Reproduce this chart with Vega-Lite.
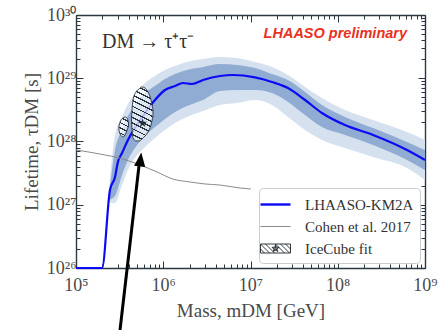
{
  "$schema": "https://vega.github.io/schema/vega-lite/v6.json",
  "width": 349,
  "height": 253,
  "autosize": "none",
  "padding": {"left": 76, "top": 15, "right": 14, "bottom": 62},
  "background": "white",
  "config": {"view": {"stroke": null}, "axis": {"grid": false}},
  "resolve": {"axis": {"x": "independent", "y": "independent"}},
  "datasets": {
    "bands": [
      {"m": 2.40e5, "lt": 1.9e27, "dt": 1.5e27, "db": 1.2e27, "lb": 1.1e27},
      {"m": 2.80e5, "lt": 1.27e28, "dt": 7.35e27, "db": 1.37e27, "lb": 1.07e27},
      {"m": 3.37e5, "lt": 2.44e28, "dt": 1.52e28, "db": 2.95e27, "lb": 2.05e27},
      {"m": 3.94e5, "lt": 3.92e28, "dt": 2.53e28, "db": 5.11e27, "lb": 3.54e27},
      {"m": 4.74e5, "lt": 5.64e28, "dt": 3.78e28, "db": 7.89e27, "lb": 5.48e27},
      {"m": 6.18e5, "lt": 8.41e28, "dt": 5.85e28, "db": 1.22e28, "lb": 8.18e27},
      {"m": 8.04e5, "lt": 1.086e29, "dt": 7.53e28, "db": 1.69e28, "lb": 1.14e28},
      {"m": 1.047e6, "lt": 1.349e29, "dt": 9.73e28, "db": 2.27e28, "lb": 1.52e28},
      {"m": 1.365e6, "lt": 1.563e29, "dt": 1.167e29, "db": 2.92e28, "lb": 1.96e28},
      {"m": 1.87e6, "lt": 1.807e29, "dt": 1.349e29, "db": 3.64e28, "lb": 2.44e28},
      {"m": 2.86e6, "lt": 2.014e29, "dt": 1.507e29, "db": 4.53e28, "lb": 3.03e28},
      {"m": 4.47e6, "lt": 2.17e29, "dt": 1.679e29, "db": 6.28e28, "lb": 3.78e28},
      {"m": 7.0e6, "lt": 2.089e29, "dt": 1.618e29, "db": 6.52e28, "lb": 4.06e28},
      {"m": 1.127e7, "lt": 1.807e29, "dt": 1.452e29, "db": 6.52e28, "lb": 4.53e28},
      {"m": 1.76e7, "lt": 1.507e29, "dt": 1.167e29, "db": 5.85e28, "lb": 3.78e28},
      {"m": 2.69e7, "lt": 1.125e29, "dt": 9.38e28, "db": 4.22e28, "lb": 2.44e28},
      {"m": 4.22e7, "lt": 7.28e28, "dt": 6.07e28, "db": 2.62e28, "lb": 1.52e28},
      {"m": 6.59e7, "lt": 4.88e28, "dt": 3.78e28, "db": 1.69e28, "lb": 1.06e28},
      {"m": 1.21e8, "lt": 3.15e28, "dt": 2.44e28, "db": 1.27e28, "lb": 7.89e27},
      {"m": 2.54e8, "lt": 2.19e28, "dt": 1.63e28, "db": 8.81e27, "lb": 5.69e27},
      {"m": 6.22e8, "lt": 1.41e28, "dt": 9.82e27, "db": 5.11e27, "lb": 3.81e27},
      {"m": 1e9, "lt": 1.06e28, "dt": 7.35e27, "db": 3.54e27, "lb": 2.46e27}
    ],
    "lines": [
      {"series": "LHAASO-KM2A", "m": 1e5, "tau": 1e26},
      {"series": "LHAASO-KM2A", "m": 1.99e5, "tau": 1e26},
      {"series": "LHAASO-KM2A", "m": 2.45e5, "tau": 1.71e27},
      {"series": "LHAASO-KM2A", "m": 2.80e5, "tau": 2.75e27},
      {"series": "LHAASO-KM2A", "m": 3.02e5, "tau": 4.74e27},
      {"series": "LHAASO-KM2A", "m": 3.37e5, "tau": 6.58e27},
      {"series": "LHAASO-KM2A", "m": 3.94e5, "tau": 1.06e28},
      {"series": "LHAASO-KM2A", "m": 4.74e5, "tau": 1.63e28},
      {"series": "LHAASO-KM2A", "m": 6.18e5, "tau": 2.82e28},
      {"series": "LHAASO-KM2A", "m": 8.04e5, "tau": 4.53e28},
      {"series": "LHAASO-KM2A", "m": 1.047e6, "tau": 6.52e28},
      {"series": "LHAASO-KM2A", "m": 1.365e6, "tau": 7.53e28},
      {"series": "LHAASO-KM2A", "m": 1.68e6, "tau": 8.41e28},
      {"series": "LHAASO-KM2A", "m": 2.14e6, "tau": 8.11e28},
      {"series": "LHAASO-KM2A", "m": 2.86e6, "tau": 9.38e28},
      {"series": "LHAASO-KM2A", "m": 4.47e6, "tau": 1.086e29},
      {"series": "LHAASO-KM2A", "m": 6.3e6, "tau": 1.125e29},
      {"series": "LHAASO-KM2A", "m": 1.127e7, "tau": 1.03e29},
      {"series": "LHAASO-KM2A", "m": 1.76e7, "tau": 8.73e28},
      {"series": "LHAASO-KM2A", "m": 2.69e7, "tau": 7.01e28},
      {"series": "LHAASO-KM2A", "m": 4.22e7, "tau": 4.53e28},
      {"series": "LHAASO-KM2A", "m": 6.59e7, "tau": 2.82e28},
      {"series": "LHAASO-KM2A", "m": 1.21e8, "tau": 1.82e28},
      {"series": "LHAASO-KM2A", "m": 2.54e8, "tau": 1.27e28},
      {"series": "LHAASO-KM2A", "m": 6.22e8, "tau": 7.35e27},
      {"series": "LHAASO-KM2A", "m": 1e9, "tau": 5.11e27},
      {"series": "Cohen et al. 2017", "m": 1e5, "tau": 7.35e27},
      {"series": "Cohen et al. 2017", "m": 1.88e5, "tau": 6.34e27},
      {"series": "Cohen et al. 2017", "m": 3.46e5, "tau": 5.28e27},
      {"series": "Cohen et al. 2017", "m": 5.42e5, "tau": 4.25e27},
      {"series": "Cohen et al. 2017", "m": 8.47e5, "tau": 3.30e27},
      {"series": "Cohen et al. 2017", "m": 1.29e6, "tau": 2.55e27},
      {"series": "Cohen et al. 2017", "m": 2.03e6, "tau": 2.29e27},
      {"series": "Cohen et al. 2017", "m": 3.01e6, "tau": 2.13e27},
      {"series": "Cohen et al. 2017", "m": 4.47e6, "tau": 2.05e27},
      {"series": "Cohen et al. 2017", "m": 7.59e6, "tau": 1.84e27},
      {"series": "Cohen et al. 2017", "m": 1.01e7, "tau": 1.77e27}
    ],
    "keys": [
      {"series": "LHAASO-KM2A", "m": 1e9, "tau": 5.11e27},
      {"series": "Cohen et al. 2017", "m": 1.01e7, "tau": 1.77e27},
      {"series": "IceCube fit", "m": 5.8e5, "tau": 1.95e28}
    ],
    "hatchBig": [
      {"m": 4.33e5, "top": 2.35e28, "bot": 2.03e28},
      {"m": 4.50e5, "top": 4.53e28, "bot": 1.14e28},
      {"m": 4.87e5, "top": 6.07e28, "bot": 1.02e28},
      {"m": 5.27e5, "top": 6.76e28, "bot": 1.02e28},
      {"m": 5.70e5, "top": 7.28e28, "bot": 1.10e28},
      {"m": 6.18e5, "top": 7.01e28, "bot": 1.22e28},
      {"m": 6.68e5, "top": 6.07e28, "bot": 1.41e28},
      {"m": 7.24e5, "top": 4.53e28, "bot": 1.82e28},
      {"m": 7.63e5, "top": 3.15e28, "bot": 2.53e28}
    ],
    "hatchSmall": [
      {"m": 3.11e5, "top": 1.76e28, "bot": 1.47e28},
      {"m": 3.24e5, "top": 2.11e28, "bot": 1.27e28},
      {"m": 3.46e5, "top": 2.35e28, "bot": 1.18e28},
      {"m": 3.69e5, "top": 2.44e28, "bot": 1.31e28},
      {"m": 3.89e5, "top": 2.27e28, "bot": 1.58e28},
      {"m": 4.00e5, "top": 1.96e28, "bot": 1.76e28}
    ],
    "star": [{"m": 5.8e5, "tau": 1.95e28}],
    "arrow": [{"m": 3.05e5, "tau": 6.0e24, "m2": 5.27e5, "tau2": 4.10e27}],
    "head": [{"m": 5.48e5, "tau": 5.19e27}],
    "decay": [{"m": 1.99e5, "tau": 3.0e29, "label": "DM → τ⁺τ⁻"}],
    "prelim": [{"m": 6.22e8, "tau": 4.33e29, "label": "LHAASO preliminary"}]
  },
  "layer": [
    {
      "data": {"name": "bands"},
      "mark": {"type": "area", "color": "#d6e1f0", "interpolate": "monotone", "opacity": 1},
      "encoding": {
        "x": {"field": "m", "type": "quantitative", "scale": {"type": "log", "domain": [1e5, 1e9], "nice": false},
          "axis": {"orient": "bottom", "values": [1e5,2e5,3e5,4e5,5e5,6e5,7e5,8e5,9e5,1e6,2e6,3e6,4e6,5e6,6e6,7e6,8e6,9e6,1e7,2e7,3e7,4e7,5e7,6e7,7e7,8e7,9e7,1e8,2e8,3e8,4e8,5e8,6e8,7e8,8e8,9e8,1e9],
            "tickSize": {"condition": {"test": "abs(log(datum.value)/LN10 - round(log(datum.value)/LN10)) < 0.001", "value": -7}, "value": -4},
            "tickColor": "#2b3840", "tickWidth": 1, "domainColor": "#2b3840", "domainWidth": 1.4,
            "labelExpr": "datum.value == 1e5 ? '10⁵' : datum.value == 1e6 ? '10⁶' : datum.value == 1e7 ? '10⁷' : datum.value == 1e8 ? '10⁸' : datum.value == 1e9 ? '10⁹' : ''",
            "labelFont": "Liberation Serif", "labelFontSize": 18, "labelColor": "#4a4a4a", "labelPadding": 15,
            "labelFlush": false, "labelOverlap": false, "labelBound": false,
            "title": "Mass, mDM [GeV]", "titleFont": "Liberation Serif", "titleFontSize": 19, "titleFontWeight": "normal", "titleColor": "#4a4a4a", "titlePadding": 4}},
        "y": {"field": "lt", "type": "quantitative", "scale": {"type": "log", "domain": [1e26, 1e30], "nice": false},
          "axis": {"orient": "left", "values": [1e26,2e26,3e26,4e26,5e26,6e26,7e26,8e26,9e26,1e27,2e27,3e27,4e27,5e27,6e27,7e27,8e27,9e27,1e28,2e28,3e28,4e28,5e28,6e28,7e28,8e28,9e28,1e29,2e29,3e29,4e29,5e29,6e29,7e29,8e29,9e29,1e30],
            "tickSize": {"condition": {"test": "abs(log(datum.value)/LN10 - round(log(datum.value)/LN10)) < 0.001", "value": -7}, "value": -4},
            "tickColor": "#2b3840", "tickWidth": 1, "domainColor": "#2b3840", "domainWidth": 1.4,
            "labelExpr": "datum.value == 1e26 ? '10²⁶' : datum.value == 1e27 ? '10²⁷' : datum.value == 1e28 ? '10²⁸' : datum.value == 1e29 ? '10²⁹' : datum.value == 1e30 ? '10³⁰' : ''",
            "labelFont": "Liberation Serif", "labelFontSize": 18, "labelColor": "#4a4a4a", "labelPadding": 7,
            "labelFlush": false, "labelOverlap": false, "labelBound": false,
            "title": "Lifetime, τDM [s]", "titleFont": "Liberation Serif", "titleFontSize": 19, "titleFontWeight": "normal", "titleColor": "#4a4a4a", "titlePadding": 5}},
        "y2": {"field": "lb"}
      }
    },
    {
      "data": {"name": "bands"},
      "mark": {"type": "area", "color": "#90acd2", "interpolate": "monotone", "opacity": 1},
      "encoding": {
        "x": {"field": "m", "type": "quantitative", "scale": {"type": "log", "domain": [1e5, 1e9], "nice": false},
          "axis": {"orient": "top", "values": [1e5,2e5,3e5,4e5,5e5,6e5,7e5,8e5,9e5,1e6,2e6,3e6,4e6,5e6,6e6,7e6,8e6,9e6,1e7,2e7,3e7,4e7,5e7,6e7,7e7,8e7,9e7,1e8,2e8,3e8,4e8,5e8,6e8,7e8,8e8,9e8,1e9],
            "tickSize": {"condition": {"test": "abs(log(datum.value)/LN10 - round(log(datum.value)/LN10)) < 0.001", "value": -7}, "value": -4},
            "tickColor": "#2b3840", "tickWidth": 1, "domainColor": "#2b3840", "domainWidth": 1.4,
            "labels": false, "title": null}},
        "y": {"field": "dt", "type": "quantitative", "scale": {"type": "log", "domain": [1e26, 1e30], "nice": false},
          "axis": {"orient": "right", "values": [1e26,2e26,3e26,4e26,5e26,6e26,7e26,8e26,9e26,1e27,2e27,3e27,4e27,5e27,6e27,7e27,8e27,9e27,1e28,2e28,3e28,4e28,5e28,6e28,7e28,8e28,9e28,1e29,2e29,3e29,4e29,5e29,6e29,7e29,8e29,9e29,1e30],
            "tickSize": {"condition": {"test": "abs(log(datum.value)/LN10 - round(log(datum.value)/LN10)) < 0.001", "value": -7}, "value": -4},
            "tickColor": "#2b3840", "tickWidth": 1, "domainColor": "#2b3840", "domainWidth": 1.4,
            "labels": false, "title": null}},
        "y2": {"field": "db"}
      }
    },
    {
      "data": {"name": "lines"},
      "mark": {"type": "line", "interpolate": "monotone"},
      "encoding": {
        "x": {"field": "m", "type": "quantitative", "scale": {"type": "log", "domain": [1e5, 1e9], "nice": false}, "axis": null},
        "y": {"field": "tau", "type": "quantitative", "scale": {"type": "log", "domain": [1e26, 1e30], "nice": false}, "axis": null},
        "color": {"field": "series", "type": "nominal", "legend": null,
          "scale": {"domain": ["LHAASO-KM2A", "Cohen et al. 2017"], "range": ["#0a0af5", "#8a8a8a"]}},
        "strokeWidth": {"condition": {"test": "datum.series === 'LHAASO-KM2A'", "value": 2.2}, "value": 1}
      }
    },
    {
      "data": {"name": "keys"},
      "mark": {"type": "point", "filled": true, "opacity": 0, "size": 400, "strokeWidth": 0.9},
      "encoding": {
        "x": {"field": "m", "type": "quantitative", "scale": {"type": "log", "domain": [1e5, 1e9], "nice": false}, "axis": null},
        "y": {"field": "tau", "type": "quantitative", "scale": {"type": "log", "domain": [1e26, 1e30], "nice": false}, "axis": null},
        "fill": {"field": "series", "type": "nominal",
          "scale": {"domain": ["LHAASO-KM2A", "Cohen et al. 2017", "IceCube fit"], "range": ["#0a0af5", "#8a8a8a", "#ffffff"]},
          "legend": {"orient": "bottom-right", "offset": 5, "title": null, "fillColor": "rgba(255,255,255,0.9)", "strokeColor": "#cccccc",
            "cornerRadius": 4, "padding": 6, "rowPadding": 3, "labelFont": "Liberation Serif", "labelFontSize": 15, "labelColor": "#333333",
            "labelOffset": 19, "symbolSize": 400, "symbolOpacity": 1, "symbolStrokeWidth": 0.9}},
        "stroke": {"field": "series", "type": "nominal",
          "scale": {"domain": ["LHAASO-KM2A", "Cohen et al. 2017", "IceCube fit"], "range": ["transparent", "transparent", "#1b252b"]},
          "legend": {"orient": "bottom-right", "offset": 5, "title": null, "fillColor": "rgba(255,255,255,0.9)", "strokeColor": "#cccccc",
            "cornerRadius": 4, "padding": 6, "rowPadding": 3, "labelFont": "Liberation Serif", "labelFontSize": 15, "labelColor": "#333333",
            "labelOffset": 19, "symbolSize": 400, "symbolOpacity": 1, "symbolStrokeWidth": 0.9}},
        "shape": {"field": "series", "type": "nominal",
          "scale": {"domain": ["LHAASO-KM2A", "Cohen et al. 2017", "IceCube fit"], "range": [
            "M-1.5,-0.12H1.5V0.12H-1.5Z",
            "M-1.5,-0.05H1.5V0.05H-1.5Z",
            "M-1.5,-0.45H1.5V0.45H-1.5Z M-1.5,0.05L-1.1,0.45 M-1.5,-0.45L-0.6,0.45 M-1.0,-0.45L-0.1,0.45 M0.0,-0.45L0.9,0.45 M0.5,-0.45L1.4,0.45 M1.0,-0.45L1.5,0.05 M0,-0.38L0.085,-0.117L0.361,-0.117L0.138,0.044L0.223,0.307L0,0.145L-0.223,0.307L-0.138,0.044L-0.361,-0.117L-0.085,-0.117Z M0,-0.2L0.1,0.15L-0.1,0.15Z"]},
          "legend": {"orient": "bottom-right", "offset": 5, "title": null, "fillColor": "rgba(255,255,255,0.9)", "strokeColor": "#cccccc",
            "cornerRadius": 4, "padding": 6, "rowPadding": 3, "labelFont": "Liberation Serif", "labelFontSize": 15, "labelColor": "#333333",
            "labelOffset": 19, "symbolSize": 400, "symbolOpacity": 1, "symbolStrokeWidth": 0.9}}
      }
    },
    {
      "data": {"name": "hatchSmall"},
      "mark": {"type": "area", "interpolate": "monotone", "stroke": "#22313a", "strokeWidth": 0.9, "opacity": 1,
        "fill": {"gradient": "linear", "x1": 0.62, "y1": 0, "x2": 0.38, "y2": 1, "stops": [
          {"offset": 0, "color": "rgba(255,255,255,0.7)"},
          {"offset": 0.0925, "color": "rgba(255,255,255,0.7)"}, {"offset": 0.0925, "color": "#22313a"}, {"offset": 0.1575, "color": "#22313a"}, {"offset": 0.1575, "color": "rgba(255,255,255,0.7)"},
          {"offset": 0.3425, "color": "rgba(255,255,255,0.7)"}, {"offset": 0.3425, "color": "#22313a"}, {"offset": 0.4075, "color": "#22313a"}, {"offset": 0.4075, "color": "rgba(255,255,255,0.7)"},
          {"offset": 0.5925, "color": "rgba(255,255,255,0.7)"}, {"offset": 0.5925, "color": "#22313a"}, {"offset": 0.6575, "color": "#22313a"}, {"offset": 0.6575, "color": "rgba(255,255,255,0.7)"},
          {"offset": 0.8425, "color": "rgba(255,255,255,0.7)"}, {"offset": 0.8425, "color": "#22313a"}, {"offset": 0.9075, "color": "#22313a"}, {"offset": 0.9075, "color": "rgba(255,255,255,0.7)"},
          {"offset": 1, "color": "rgba(255,255,255,0.7)"}]}},
      "encoding": {
        "x": {"field": "m", "type": "quantitative", "scale": {"type": "log", "domain": [1e5, 1e9], "nice": false}, "axis": null},
        "y": {"field": "top", "type": "quantitative", "scale": {"type": "log", "domain": [1e26, 1e30], "nice": false}, "axis": null},
        "y2": {"field": "bot"}
      }
    },
    {
      "data": {"name": "hatchBig"},
      "mark": {"type": "area", "interpolate": "monotone", "stroke": "#22313a", "strokeWidth": 0.9, "opacity": 1,
        "fill": {"gradient": "linear", "x1": 0.6, "y1": 0, "x2": 0.4, "y2": 1, "stops": [
          {"offset": 0, "color": "rgba(255,255,255,0.7)"},
          {"offset": 0.0375, "color": "rgba(255,255,255,0.7)"}, {"offset": 0.0375, "color": "#22313a"}, {"offset": 0.0625, "color": "#22313a"}, {"offset": 0.0625, "color": "rgba(255,255,255,0.7)"},
          {"offset": 0.1375, "color": "rgba(255,255,255,0.7)"}, {"offset": 0.1375, "color": "#22313a"}, {"offset": 0.1625, "color": "#22313a"}, {"offset": 0.1625, "color": "rgba(255,255,255,0.7)"},
          {"offset": 0.2375, "color": "rgba(255,255,255,0.7)"}, {"offset": 0.2375, "color": "#22313a"}, {"offset": 0.2625, "color": "#22313a"}, {"offset": 0.2625, "color": "rgba(255,255,255,0.7)"},
          {"offset": 0.3375, "color": "rgba(255,255,255,0.7)"}, {"offset": 0.3375, "color": "#22313a"}, {"offset": 0.3625, "color": "#22313a"}, {"offset": 0.3625, "color": "rgba(255,255,255,0.7)"},
          {"offset": 0.4375, "color": "rgba(255,255,255,0.7)"}, {"offset": 0.4375, "color": "#22313a"}, {"offset": 0.4625, "color": "#22313a"}, {"offset": 0.4625, "color": "rgba(255,255,255,0.7)"},
          {"offset": 0.5375, "color": "rgba(255,255,255,0.7)"}, {"offset": 0.5375, "color": "#22313a"}, {"offset": 0.5625, "color": "#22313a"}, {"offset": 0.5625, "color": "rgba(255,255,255,0.7)"},
          {"offset": 0.6375, "color": "rgba(255,255,255,0.7)"}, {"offset": 0.6375, "color": "#22313a"}, {"offset": 0.6625, "color": "#22313a"}, {"offset": 0.6625, "color": "rgba(255,255,255,0.7)"},
          {"offset": 0.7375, "color": "rgba(255,255,255,0.7)"}, {"offset": 0.7375, "color": "#22313a"}, {"offset": 0.7625, "color": "#22313a"}, {"offset": 0.7625, "color": "rgba(255,255,255,0.7)"},
          {"offset": 0.8375, "color": "rgba(255,255,255,0.7)"}, {"offset": 0.8375, "color": "#22313a"}, {"offset": 0.8625, "color": "#22313a"}, {"offset": 0.8625, "color": "rgba(255,255,255,0.7)"},
          {"offset": 0.9375, "color": "rgba(255,255,255,0.7)"}, {"offset": 0.9375, "color": "#22313a"}, {"offset": 0.9625, "color": "#22313a"}, {"offset": 0.9625, "color": "rgba(255,255,255,0.7)"},
          {"offset": 1, "color": "rgba(255,255,255,0.7)"}]}},
      "encoding": {
        "x": {"field": "m", "type": "quantitative", "scale": {"type": "log", "domain": [1e5, 1e9], "nice": false}, "axis": null},
        "y": {"field": "top", "type": "quantitative", "scale": {"type": "log", "domain": [1e26, 1e30], "nice": false}, "axis": null},
        "y2": {"field": "bot"}
      }
    },
    {
      "data": {"name": "star"},
      "mark": {"type": "point", "filled": true, "opacity": 1, "color": "#22313a", "size": 90,
        "shape": "M0,-1L0.2245,-0.309L0.951,-0.309L0.363,0.118L0.588,0.809L0,0.382L-0.588,0.809L-0.363,0.118L-0.951,-0.309L-0.2245,-0.309Z"},
      "encoding": {
        "x": {"field": "m", "type": "quantitative", "scale": {"type": "log", "domain": [1e5, 1e9], "nice": false}, "axis": null},
        "y": {"field": "tau", "type": "quantitative", "scale": {"type": "log", "domain": [1e26, 1e30], "nice": false}, "axis": null}
      }
    },
    {
      "data": {"name": "arrow"},
      "mark": {"type": "rule", "color": "#000000", "strokeWidth": 3, "clip": false},
      "encoding": {
        "x": {"field": "m", "type": "quantitative", "scale": {"type": "log", "domain": [1e5, 1e9], "nice": false}, "axis": null},
        "y": {"field": "tau", "type": "quantitative", "scale": {"type": "log", "domain": [1e26, 1e30], "nice": false}, "axis": null},
        "x2": {"field": "m2"},
        "y2": {"field": "tau2"}
      }
    },
    {
      "data": {"name": "head"},
      "mark": {"type": "point", "filled": true, "opacity": 1, "color": "#000000", "size": 196, "angle": 6.6,
        "shape": "M0,-1L0.8,1L-0.8,1Z"},
      "encoding": {
        "x": {"field": "m", "type": "quantitative", "scale": {"type": "log", "domain": [1e5, 1e9], "nice": false}, "axis": null},
        "y": {"field": "tau", "type": "quantitative", "scale": {"type": "log", "domain": [1e26, 1e30], "nice": false}, "axis": null}
      }
    },
    {
      "data": {"name": "decay"},
      "mark": {"type": "text", "align": "left", "baseline": "alphabetic", "font": "Liberation Serif", "fontSize": 20, "color": "#333333"},
      "encoding": {
        "x": {"field": "m", "type": "quantitative", "scale": {"type": "log", "domain": [1e5, 1e9], "nice": false}, "axis": null},
        "y": {"field": "tau", "type": "quantitative", "scale": {"type": "log", "domain": [1e26, 1e30], "nice": false}, "axis": null},
        "text": {"field": "label"}
      }
    },
    {
      "data": {"name": "prelim"},
      "mark": {"type": "text", "align": "right", "baseline": "alphabetic", "font": "Liberation Sans", "fontSize": 14.5, "fontWeight": "bold", "fontStyle": "italic", "color": "#e8321e"},
      "encoding": {
        "x": {"field": "m", "type": "quantitative", "scale": {"type": "log", "domain": [1e5, 1e9], "nice": false}, "axis": null},
        "y": {"field": "tau", "type": "quantitative", "scale": {"type": "log", "domain": [1e26, 1e30], "nice": false}, "axis": null},
        "text": {"field": "label"}
      }
    }
  ]
}
